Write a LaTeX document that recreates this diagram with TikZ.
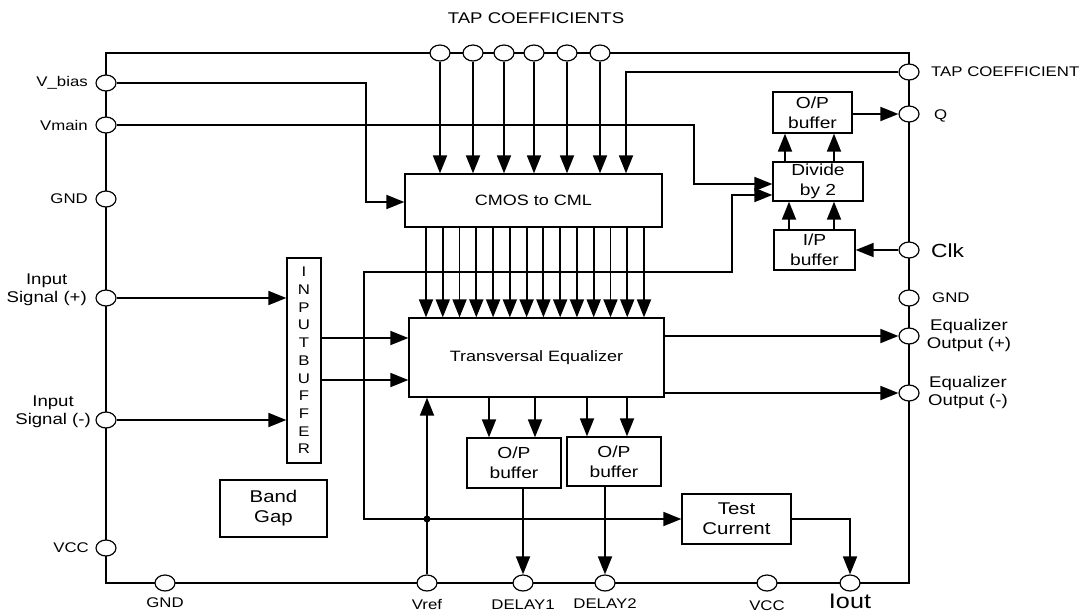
\documentclass[tikz,border=0pt]{standalone}
\usepackage{fontspec}
\setmainfont{Liberation Sans}[FakeStretch=1.2]
\usetikzlibrary{arrows.meta,shapes.geometric,calc}
\begin{document}
\begin{tikzpicture}[x=1pt,y=-1pt,
  pin/.style={draw,ellipse,minimum width=20pt,minimum height=16pt,inner sep=0pt,fill=white,line width=1.2pt},
  blk/.style={draw,line width=1.3pt,inner sep=0pt,align=center,fill=white,font=\fontsize{16}{20}\selectfont},
  wire/.style={line width=1.8pt},
  arr/.style={wire,-{Triangle[length=18pt,width=14pt]}},
  lbl/.style={inner sep=0pt,font=\fontsize{14}{17.5}\selectfont,align=center},
  lbltwo/.style={lbl,font=\fontsize{15.5}{18}\selectfont},
]
\useasboundingbox (0,0) rectangle (1092,614);
% frame
\draw[wire] (106,53) rectangle (909,583);
% pins
\node[pin] (vbias) at (106,83) {};
\node[pin] (vmain) at (106,125) {};
\node[pin] (gndL) at (106,199) {};
\node[pin] (inp) at (106,298) {};
\node[pin] (inm) at (106,420) {};
\node[pin] (vccL) at (106,548) {};
\node[pin] (t1) at (440,53) {};
\node[pin] (t2) at (473,53) {};
\node[pin] (t3) at (504,53) {};
\node[pin] (t4) at (534,53) {};
\node[pin] (t5) at (567,53) {};
\node[pin] (t6) at (600,53) {};
\node[pin] (tapc) at (909,72) {};
\node[pin] (q) at (909,114) {};
\node[pin] (clk) at (909,250) {};
\node[pin] (gndR) at (909,298) {};
\node[pin] (eqp) at (909,336) {};
\node[pin] (eqm) at (909,393) {};
\node[pin] (gndB) at (165,583) {};
\node[pin] (vref) at (427,583) {};
\node[pin] (d1) at (523,583) {};
\node[pin] (d2) at (605,583) {};
\node[pin] (vccB) at (767,583) {};
\node[pin] (iout) at (850,583) {};
% blocks
\node[blk,minimum width=257pt,minimum height=53pt,font=\fontsize{15}{18}\selectfont] (cmos) at (533.5,200.5) {CMOS to CML};
\node[blk,minimum width=255pt,minimum height=79pt,font=\fontsize{15}{18}\selectfont] (eq) at (536.5,357.5) {Transversal Equalizer};
\node[blk,minimum width=34pt,minimum height=205pt,font=\fontsize{14}{17.7}\selectfont] (ib) at (304,360.5) {I\\N\\P\\U\\T\\B\\U\\F\\F\\E\\R};
\node[blk,minimum width=107pt,minimum height=57pt,font=\fontsize{17}{20}\selectfont] (bg) at (273.5,508.5) {Band\\Gap};
\node[blk,minimum width=94pt,minimum height=50pt] (opb1) at (514,463) {O/P\\buffer};
\node[blk,minimum width=94pt,minimum height=49pt] (opb2) at (614,461.5) {O/P\\buffer};
\node[blk,minimum width=109pt,minimum height=50pt,font=\fontsize{17}{20}\selectfont] (tc) at (736.5,519) {Test\\Current};
\node[blk,minimum width=79pt,minimum height=41pt] (opt) at (812.5,112.5) {O/P\\buffer};
\node[blk,minimum width=90pt,minimum height=39pt] (div) at (818,181.5) {Divide\\by 2};
\node[blk,minimum width=81pt,minimum height=40pt] (ip) at (814.5,250) {I/P\\buffer};
% labels
\node[lbl,font=\fontsize{15.5}{18}\selectfont] at (536,18) {TAP COEFFICIENTS};
\node[lbl,anchor=east] at (88,83) {V\_bias};
\node[lbl,anchor=east] at (88,125) {Vmain};
\node[lbl,anchor=east] at (88,199) {GND};
\node[lbltwo,anchor=east] at (87,290) {Input\\Signal (+)};
\node[lbltwo,anchor=east] at (91,412) {Input\\Signal (-)};
\node[lbl,anchor=east] at (89,548) {VCC};
\node[lbl,anchor=west] at (931,72) {TAP COEFFICIENT};
\node[lbl,anchor=west] at (934,116) {Q};
\node[lbl,anchor=west,font=\fontsize{19}{22}\selectfont] at (931,251) {Clk};
\node[lbl,anchor=west] at (932,298) {GND};
\node[lbltwo] at (969,335.5) {Equalizer\\Output (+)};
\node[lbltwo] at (968,392.5) {Equalizer\\Output (-)};
\node[lbl] at (165,603) {GND};
\node[lbl] at (427,604) {Vref};
\node[lbl] at (523,605) {DELAY1};
\node[lbl] at (605,604) {DELAY2};
\node[lbl] at (767,606) {VCC};
\node[lbl,font=\fontsize{21}{24}\selectfont] at (850,601) {Iout};
% tap coefficient arrows
\foreach \p in {t1,t2,t3,t4,t5,t6} \draw[arr] (\p) -- (\p |- cmos.north);
\coordinate (k7) at (626,100);
\draw[arr] (tapc) -| (k7 |- cmos.north);
% bias / main
\draw[arr] (vbias) -| ([xshift=-38pt,yshift=-1.5pt]cmos.west) -- ([yshift=-1.5pt]cmos.west);
\draw[arr] (vmain) -| ([xshift=-78pt,yshift=-2.5pt]div.west) -- ([yshift=-2.5pt]div.west);
% cmos -> eq
\foreach \i in {0,...,13} {
  \coordinate (c\i) at ({426+16.77*\i},300);
  \draw[arr] (c\i |- cmos.south) -- (c\i |- eq.north);
}
% input buffer
\draw[arr] (inp) -- (inp -| ib.west);
\draw[arr] (inm) -- (inm -| ib.west);
\coordinate (ib1) at ([yshift=22.5pt]ib.east);
\coordinate (ib2) at ([yshift=-19.5pt]ib.east);
\draw[arr] (ib1) -- (ib1 -| eq.west);
\draw[arr] (ib2) -- (ib2 -| eq.west);
% eq outputs
\draw[arr] (eq.east |- eqp) -- (eqp);
\draw[arr] (eq.east |- eqm) -- (eqm);
\coordinate (e1) at (489,420);
\coordinate (e2) at (535,420);
\coordinate (e3) at (587,420);
\coordinate (e4) at (627,420);
\foreach \e/\b in {e1/opb1,e2/opb1,e3/opb2,e4/opb2} \draw[arr] (\e |- eq.south) -- (\e |- \b.north);
\draw[arr] (opb1.south -| d1) -- (d1);
\draw[arr] (opb2.south -| d2) -- (d2);
% vref
\draw[arr] (vref) -- (vref |- eq.south);
\coordinate (j) at (vref |- tc.west);
\draw[arr] (j) -- (tc.west);
\draw[arr] (j) -| (364,272) -| ([xshift=-40pt,yshift=-13.5pt]div.west) -- ([yshift=-13.5pt]div.west);
\fill (j) circle (3.5pt);
\draw[arr] (tc.east) -| (iout);
% clock path
\draw[arr] (clk) -- (ip.east);
\coordinate (p1) at (789,220);
\coordinate (p2) at (834,220);
\coordinate (p3) at (785,150);
\draw[arr] (p1 |- ip.north) -- (p1 |- div.south);
\draw[arr] (p2 |- ip.north) -- (p2 |- div.south);
\draw[arr] (p3 |- div.north) -- (p3 |- opt.south);
\draw[arr] (p2 |- div.north) -- (p2 |- opt.south);
\draw[arr] (opt.east |- q) -- (q);
\end{tikzpicture}
\end{document}
